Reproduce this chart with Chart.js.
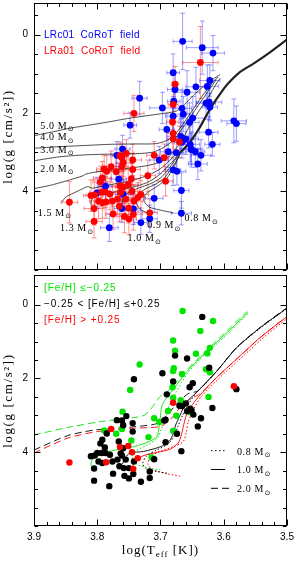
<!DOCTYPE html>
<html><head><meta charset="utf-8">
<script src="https://cdn.jsdelivr.net/npm/chart.js@4/dist/chart.umd.min.js"></script>
<style>
html,body{margin:0;padding:0;background:#fff;width:295px;height:562px;overflow:hidden}
canvas{position:absolute;left:0}
#c1{top:0}#c2{top:272px}
</style></head><body>
<canvas id="c1" width="295" height="273"></canvas>
<canvas id="c2" width="295" height="290"></canvas>
<script>
// ---------------- axis labels ----------------
const xTickLabels = [3.9, 3.8, 3.7, 3.6, 3.5];
const yTickLabels = [0, 2, 4];

// ---------------- top panel: stars with error bars ----------------
const lrc01Teff = [3.665,3.634,3.617,3.680,3.622,3.677,3.658,3.644,3.626,3.623,
                   3.628,3.622,3.733,3.679,3.697,3.666,3.748,3.680,3.649,3.654,
                   3.690,3.584,3.580,3.624,3.668,3.660,3.653,3.651,3.645,3.618,
                   3.636,3.641,3.688,3.674,3.680,3.702,3.667,3.710,3.717,3.760,
                   3.766,3.759,3.800,3.761,3.743,3.731,3.781,3.787,3.769,3.667,
                   3.675,3.652,3.666,3.664];
const lrc01Logg = [0.17,0.33,0.47,0.97,1.17,1.40,1.47,1.33,1.32,1.72,
                   1.75,1.85,1.62,1.70,1.87,1.88,2.31,2.08,2.13,2.24,
                   2.42,2.20,2.27,2.49,2.60,2.66,2.80,2.93,2.99,2.80,
                   3.08,3.30,2.99,3.49,3.45,3.20,3.98,4.18,4.70,2.92,
                   3.69,4.08,4.04,4.44,4.45,4.80,4.93,3.87,3.08,4.56,
                   3.01,2.92,2.75,2.03];
const lrc01TeffErr = [0.015,0.025,0.018,0.010,0.016,0.012,0.020,0.016,0.018,0.020,
                      0.015,0.012,0.012,0.010,0.020,0.015,0.010,0.012,0.020,0.015,
                      0.012,0.020,0.015,0.015,0.012,0.020,0.015,0.018,0.015,0.012,
                      0.016,0.015,0.012,0.014,0.012,0.015,0.012,0.014,0.012,0.012,
                      0.012,0.012,0.012,0.012,0.012,0.010,0.014,0.010,0.010,0.016,
                      0.012,0.015,0.012,0.015];
const lrc01LoggErr = [0.72,0.68,0.45,0.48,0.40,0.45,0.55,0.50,0.55,0.45,
                      0.40,0.35,0.43,0.40,0.40,0.45,0.33,0.50,0.55,0.50,
                      0.40,0.56,0.45,0.40,0.45,0.40,0.45,0.45,0.40,0.30,
                      0.40,0.40,0.40,0.35,0.40,0.35,0.45,0.35,0.35,0.35,
                      0.40,0.35,0.40,0.35,0.40,0.30,0.35,0.35,0.35,0.30,
                      0.40,0.40,0.40,0.45];

const lra01Teff = [3.637,3.677,3.680,3.742,3.681,3.680,3.670,3.680,3.754,3.744,
                   3.759,3.761,3.710,3.778,3.789,3.770,3.761,3.785,3.744,3.746,
                   3.720,3.692,3.792,3.795,3.764,3.751,3.759,3.745,3.804,3.793,
                   3.780,3.763,3.810,3.798,3.792,3.786,3.776,3.768,3.755,3.742,
                   3.736,3.765,3.805,3.775,3.750,3.743,3.757,3.750,3.805,3.844,
                   3.717,3.694,3.731,3.787,3.764];
const lra01Logg = [0.71,1.26,1.78,2.01,2.23,2.52,2.74,2.66,3.03,3.20,
                   3.27,3.14,3.08,3.37,3.43,3.50,3.37,3.49,3.44,3.68,
                   3.60,3.74,3.66,3.76,3.86,3.83,3.89,4.00,4.09,4.02,
                   4.07,4.03,4.11,4.25,4.29,4.27,4.25,4.20,4.20,4.25,
                   4.16,4.38,4.44,4.58,4.43,4.59,4.64,4.71,4.77,4.28,
                   4.55,3.14,4.08,4.02,3.09];
const lra01TeffErr = [0.028,0.005,0.008,0.016,0.010,0.010,0.012,0.010,0.012,0.014,
                      0.012,0.010,0.012,0.014,0.012,0.012,0.010,0.016,0.012,0.014,
                      0.012,0.012,0.014,0.012,0.012,0.016,0.012,0.012,0.014,0.012,
                      0.012,0.016,0.012,0.014,0.012,0.012,0.016,0.012,0.012,0.014,
                      0.012,0.012,0.016,0.012,0.012,0.014,0.012,0.012,0.013,0.013,
                      0.012,0.012,0.012,0.014,0.012];
const lra01LoggErr = [0.92,0.45,0.40,0.46,0.40,0.40,0.40,0.35,0.35,0.40,
                      0.35,0.35,0.35,0.40,0.35,0.40,0.35,0.40,0.40,0.40,
                      0.40,0.38,0.42,0.40,0.38,0.40,0.42,0.40,0.40,0.38,
                      0.40,0.42,0.40,0.45,0.40,0.42,0.38,0.40,0.42,0.40,
                      0.38,0.40,0.42,0.40,0.38,0.40,0.42,0.40,0.42,0.53,
                      0.35,0.35,0.35,0.40,0.35];

// ---------------- top panel: evolutionary tracks ----------------
const track50Teff = [3.900,3.870,3.840,3.790,3.748,3.700,3.675,3.662,3.648,3.632,3.618,3.606];
const track50Logg = [2.58,2.48,2.38,2.25,2.13,2.02,1.95,1.78,1.55,1.32,1.15,1.02];
const track40Teff = [3.900,3.860,3.820,3.780,3.740,3.706,3.685,3.672,3.660,3.646,3.632,3.619,3.609];
const track40Logg = [2.90,2.86,2.83,2.80,2.79,2.78,2.66,2.45,2.18,1.85,1.52,1.25,1.08];
const track30Teff = [3.900,3.860,3.820,3.780,3.740,3.712,3.695,3.680,3.668,3.655,3.640,3.625,3.612];
const track30Logg = [3.22,3.12,3.07,3.05,3.04,3.00,2.88,2.70,2.45,2.15,1.80,1.45,1.15];
const track20Teff = [3.900,3.875,3.850,3.822,3.818,3.800,3.760,3.720,3.700,3.686,3.674,3.663,3.652,3.638,3.624,3.612,3.606];
const track20Logg = [3.93,3.85,3.74,3.60,3.56,3.50,3.43,3.34,3.25,3.10,2.88,2.60,2.28,1.92,1.58,1.26,1.12];
const track15Teff = [3.856,3.850,3.838,3.825,3.815,3.808,3.790,3.765,3.740,3.718,3.700,3.688,3.678,3.668];
const track15Logg = [4.28,4.15,4.05,3.95,3.88,3.92,3.86,3.79,3.70,3.58,3.42,3.25,3.10,3.00];
const track13Teff = [3.805,3.810,3.806,3.795,3.785,3.770,3.745,3.722,3.705,3.692,3.680,3.668];
const track13Logg = [4.45,4.30,4.15,4.05,4.08,4.00,3.90,3.78,3.62,3.42,3.22,3.00];
const track10Teff = [3.752,3.760,3.760,3.752,3.735,3.715,3.700,3.688,3.678,3.668];
const track10Logg = [4.50,4.38,4.22,4.05,3.92,3.80,3.66,3.45,3.22,3.00];
const track09Teff = [3.716,3.730,3.738,3.736,3.725,3.708,3.694,3.683,3.674,3.668];
const track09Logg = [4.58,4.48,4.32,4.12,3.95,3.82,3.66,3.42,3.20,3.00];
const track08Teff = [3.680,3.700,3.718,3.726,3.725,3.716,3.704,3.692,3.682,3.674,3.668];
const track08Logg = [4.55,4.48,4.40,4.25,4.10,3.98,3.86,3.70,3.48,3.22,3.00];
const giantBranchTeff = [3.668,3.655,3.645,3.638,3.627,3.617,3.606,3.595,3.574,3.553,3.527,3.500];
const giantBranchLogg = [3.00,2.78,2.55,2.37,2.05,1.78,1.52,1.28,0.95,0.74,0.45,0.12];

const trackLabels = ['5.0','4.0','3.0','2.0','1.5','1.3','1.0','0.9','0.8'];
const trackLabelTeff = [3.890,3.890,3.890,3.890,3.894,3.859,3.752,3.721,3.662];
const trackLabelLogg = [2.40,2.70,3.02,3.50,4.62,5.02,5.27,4.95,4.77];

// ---------------- bottom panel: stars by metallicity ----------------
const metalPoorTeff = [3.665,3.617,3.637,3.680,3.622,3.677,3.644,3.626,3.628,3.622,
                       3.679,3.680,3.666,3.681,3.733,3.748,3.680,3.668,3.624,3.760,
                       3.710,3.702,3.688,3.675,3.652,3.789,3.770,3.761,3.680,3.746,
                       3.719,3.714];
const metalPoorLogg = [0.17,0.44,0.71,0.97,1.17,1.25,1.33,1.32,1.75,1.83,
                       1.72,1.80,1.88,2.24,1.62,2.31,2.52,2.59,2.50,2.90,
                       3.08,3.18,2.88,3.01,2.92,3.41,3.50,3.37,3.42,3.68,
                       3.59,4.14];
const solarTeff = [3.634,3.677,3.658,3.623,3.697,3.742,3.680,3.649,3.654,3.690,
                   3.580,3.670,3.666,3.660,3.618,3.653,3.651,3.658,3.648,3.636,
                   3.692,3.694,3.641,3.674,3.692,3.667,3.710,3.717,3.717,3.754,
                   3.769,3.761,3.744,3.759,3.785,3.744,3.792,3.795,3.766,3.759,
                   3.788,3.800,3.804,3.793,3.787,3.780,3.763,3.810,3.798,3.792,
                   3.776,3.768,3.761,3.755,3.742,3.765,3.758,3.805,3.775,3.750,
                   3.743,3.757,3.750,3.805,3.731,3.781];
const solarLogg = [0.33,1.38,1.46,1.71,1.86,2.02,2.08,2.13,2.24,2.43,
                   2.29,2.74,2.75,2.68,2.80,2.82,2.86,2.89,2.98,3.08,
                   3.12,3.14,3.30,3.50,3.73,3.97,4.19,4.52,4.70,3.02,
                   3.13,3.14,3.21,3.27,3.49,3.44,3.66,3.76,3.71,3.89,
                   3.87,4.02,4.09,4.02,4.02,4.07,4.03,4.11,4.25,4.29,
                   4.25,4.20,4.09,4.20,4.25,4.38,4.43,4.44,4.58,4.43,
                   4.59,4.64,4.71,4.77,4.80,4.92];
const metalRichTeff = [3.584,3.680,3.778,3.764,3.751,3.745,3.786,3.736,3.743,3.844];
const metalRichLogg = [2.21,2.66,3.37,3.86,3.83,4.00,4.27,4.16,4.45,4.28];

// ---------------- bottom panel: tracks ----------------
const poor08Teff = [3.700,3.722,3.740,3.745,3.738,3.720,3.705,3.698,3.692,3.686,3.675,3.657,3.636,3.615,3.588,3.561];
const poor08Logg = [4.48,4.42,4.30,4.12,3.95,3.80,3.62,3.35,3.05,2.72,2.36,1.85,1.45,1.12,0.70,0.22];
const poor10Teff = [3.808,3.810,3.805,3.782,3.740,3.718,3.706,3.702,3.700,3.697,3.680,3.659,3.638,3.617,3.590,3.561];
const poor10Logg = [4.47,4.30,4.16,3.98,3.84,3.71,3.58,3.30,3.00,2.70,2.30,1.83,1.45,1.11,0.68,0.20];
const poor20Teff = [3.900,3.847,3.795,3.742,3.726,3.716,3.708,3.700,3.684,3.661,3.640,3.619,3.592,3.563];
const poor20Logg = [3.53,3.33,3.17,3.06,3.00,2.85,2.65,2.48,2.28,1.82,1.44,1.10,0.66,0.18];
const solar08Teff = [3.690,3.705,3.722,3.728,3.722,3.705,3.688,3.678,3.672,3.665,3.655,3.645,3.613,3.582,3.545,3.502];
const solar08Logg = [4.57,4.52,4.46,4.30,4.10,3.93,3.78,3.55,3.28,3.00,2.68,2.42,1.84,1.21,0.67,0.13];
const solar10Teff = [3.760,3.756,3.748,3.727,3.700,3.686,3.680,3.676,3.669,3.659,3.643,3.611,3.580,3.543,3.500];
const solar10Logg = [4.32,4.15,4.02,3.98,3.85,3.70,3.50,3.26,2.99,2.64,2.38,1.80,1.17,0.63,0.09];
const solar20Teff = [3.900,3.847,3.805,3.742,3.705,3.690,3.680,3.668,3.655,3.641,3.610,3.579,3.542,3.500];
const solar20Logg = [3.94,3.55,3.40,3.31,3.22,3.00,2.80,2.58,2.40,2.34,1.78,1.15,0.61,0.08];
const rich08Teff = [3.669,3.690,3.712,3.720,3.716,3.700,3.680,3.664,3.659,3.656,3.648,3.636,3.609,3.578,3.541,3.500];
const rich08Logg = [4.65,4.58,4.48,4.32,4.12,3.97,3.85,3.71,3.44,3.17,2.85,2.50,2.02,1.53,0.95,0.37];
const rich10Teff = [3.745,3.740,3.728,3.705,3.685,3.672,3.667,3.664,3.660,3.652,3.640,3.611,3.580,3.543,3.500];
const rich10Logg = [4.40,4.25,4.10,4.00,3.92,3.75,3.53,3.31,3.04,2.77,2.50,1.97,1.48,0.90,0.32];
const rich20Teff = [3.900,3.847,3.800,3.742,3.700,3.685,3.674,3.665,3.652,3.638,3.611,3.580,3.543,3.500];
const rich20Logg = [4.02,3.62,3.44,3.35,3.30,3.12,2.90,2.70,2.55,2.42,1.97,1.48,0.90,0.32];

const legendMasses = ['0.8','1.0','2.0'];

// ---------------- helpers ----------------
const pts = (xs, ys) => xs.map((v, i) => ({x: v, y: ys[i]}));
function lineDs(xs, ys, color, width, dash) {
  return {data: pts(xs, ys), showLine: true, borderColor: color, borderWidth: width,
          borderDash: dash || [], pointRadius: 0, pointHoverRadius: 0, tension: 0.25,
          fill: false, order: 10};
}
function dotDs(xs, ys, color, r, order, extra) {
  return Object.assign({data: pts(xs, ys), showLine: false, pointRadius: r, pointHoverRadius: r,
          backgroundColor: color, borderColor: color, pointBorderWidth: 0, order}, extra || {});
}
const GREEN = '#00e400';
const BLUE = '#0000ff';
const RED = '#ff0000';

function drawMass(ctx, text, x, y, size) {
  ctx.font = size + 'px "Liberation Serif"';
  ctx.textAlign = 'left'; ctx.textBaseline = 'alphabetic';
  ctx.letterSpacing = '0.6px';
  ctx.fillText(text + ' M', x, y);
  const w = ctx.measureText(text + ' M').width;
  ctx.font = (size * 0.7) + 'px "DejaVu Sans"';
  ctx.letterSpacing = '0px';
  ctx.fillText('\u2299', x + w + 0.5, y + 2.5);
}

const errorBars = {
  id: 'errorBars',
  beforeDatasetsDraw(chart) {
    const {ctx, chartArea: a, scales: {x, y}} = chart;
    ctx.save();
    ctx.beginPath(); ctx.rect(a.left, a.top, a.right - a.left, a.bottom - a.top); ctx.clip();
    chart.data.datasets.forEach(ds => {
      if (!ds.errX) return;
      ctx.strokeStyle = ds.errColor; ctx.lineWidth = 1;
      ds.data.forEach((p, i) => {
        const px = x.getPixelForValue(p.x), py = y.getPixelForValue(p.y);
        const x1 = x.getPixelForValue(p.x - ds.errX[i]), x2 = x.getPixelForValue(p.x + ds.errX[i]);
        const y1 = y.getPixelForValue(p.y - ds.errY[i]), y2 = y.getPixelForValue(p.y + ds.errY[i]);
        ctx.beginPath();
        ctx.moveTo(x1, py); ctx.lineTo(x2, py);
        ctx.moveTo(px, y1); ctx.lineTo(px, y2);
        ctx.moveTo(x1, py - 2); ctx.lineTo(x1, py + 2);
        ctx.moveTo(x2, py - 2); ctx.lineTo(x2, py + 2);
        ctx.moveTo(px - 2.5, y1); ctx.lineTo(px + 2.5, y1);
        ctx.moveTo(px - 2.5, y2); ctx.lineTo(px + 2.5, y2);
        ctx.stroke();
      });
    });
    ctx.restore();
  }
};

const frameTicks = {
  id: 'frameTicks',
  afterDraw(chart, args, opts) {
    const {ctx, chartArea: a, scales: {x, y}} = chart;
    ctx.save();
    ctx.strokeStyle = '#000'; ctx.lineWidth = 1;
    const L = Math.round(a.left) + 0.5, R = Math.round(a.right) - 0.5;
    const T = Math.round(a.top) + 0.5, B = Math.round(a.bottom) - 0.5;
    ctx.strokeRect(L, T, R - L, B - T);
    ctx.beginPath();
    for (let i = 0; i <= 20; i++) {
      const v = 3.5 + i * 0.02;
      const len = (i % 5 === 0) ? 6 : 3.5;
      const px = Math.round(x.getPixelForValue(v)) + 0.5;
      ctx.moveTo(px, B); ctx.lineTo(px, B - len);
      if (opts.topTicks) { ctx.moveTo(px, T); ctx.lineTo(px, T + len); }
    }
    for (let i = -1; i <= 12; i++) {
      const v = i * 0.5;
      const len = yTickLabels.includes(v) ? 6 : 3.5;
      const py = Math.round(y.getPixelForValue(v)) + 0.5;
      ctx.moveTo(L, py); ctx.lineTo(L + len, py);
      ctx.moveTo(R, py); ctx.lineTo(R - len, py);
    }
    ctx.stroke();
    ctx.restore();
  }
};

const texts = {
  id: 'texts',
  afterDraw(chart, args, o) {
    const {ctx, chartArea: a, scales: {x, y}} = chart;
    ctx.save();
    ctx.fillStyle = '#000';
    ctx.save();
    ctx.translate(9, (a.top + a.bottom) / 2);
    ctx.rotate(-Math.PI / 2);
    ctx.font = '13px "Liberation Serif"';
    ctx.letterSpacing = '1.6px';
    ctx.textAlign = 'center'; ctx.textBaseline = 'middle';
    ctx.fillText('log(g [cm/s\u00B2])', 0, 0);
    ctx.restore();
    if (o.panel === 'top') {
      ctx.font = '10px "Liberation Sans"';
      ctx.letterSpacing = '0.3px';
      ctx.textAlign = 'left'; ctx.textBaseline = 'alphabetic';
      ctx.fillStyle = BLUE; ctx.fillText('LRc01  CoRoT  field', a.left + 10, a.top + 34.5);
      ctx.fillStyle = RED;  ctx.fillText('LRa01  CoRoT  field', a.left + 10, a.top + 51);
      ctx.fillStyle = '#000';
      trackLabels.forEach((m, i) => {
        drawMass(ctx, m, x.getPixelForValue(trackLabelTeff[i]), y.getPixelForValue(trackLabelLogg[i]), 10);
      });
    } else {
      ctx.font = '10px "Liberation Sans"';
      ctx.letterSpacing = '0.9px';
      ctx.textAlign = 'left'; ctx.textBaseline = 'alphabetic';
      ctx.fillStyle = GREEN; ctx.fillText('[Fe/H] \u2264\u22120.25', a.left + 10, a.top + 16);
      ctx.fillStyle = '#000'; ctx.fillText('\u22120.25 < [Fe/H] \u2264+0.25', a.left + 10, a.top + 32);
      ctx.fillStyle = RED; ctx.fillText('[Fe/H] > +0.25', a.left + 10, a.top + 48);
      ctx.fillStyle = '#000'; ctx.strokeStyle = '#000'; ctx.lineWidth = 1;
      const dashes = [[1.5, 2.5], [], [7, 4]];
      legendMasses.forEach((m, i) => {
        const ly = a.top + 175.5 + i * 18.8;
        ctx.setLineDash(dashes[i]);
        ctx.beginPath(); ctx.moveTo(a.left + 177, ly); ctx.lineTo(a.left + (i === 2 ? 196 : 191), ly); ctx.stroke();
        ctx.setLineDash([]);
        drawMass(ctx, m, a.left + 203, ly + 3.8, 10);
      });
      ctx.fillStyle = '#000';
      ctx.letterSpacing = '1px';
      ctx.textAlign = 'left';
      const f1 = '13px "Liberation Serif"', f2 = '9px "Liberation Serif"';
      ctx.font = f1; const w1 = ctx.measureText('log(T').width, w3 = ctx.measureText(' [K])').width;
      ctx.font = f2; const w2 = ctx.measureText('eff').width;
      const cx = (a.left + a.right) / 2, by = a.bottom + 28;
      let sx = cx - (w1 + w2 + w3) / 2;
      ctx.font = f1; ctx.fillText('log(T', sx, by); sx += w1;
      ctx.font = f2; ctx.fillText('eff', sx, by + 3); sx += w2;
      ctx.font = f1; ctx.fillText(' [K])', sx, by);
    }
    ctx.restore();
  }
};

function makeOptions(showX, panel) {
  return {
    responsive: false, animation: false, devicePixelRatio: 1,
    layout: {padding: {left: 0, right: 8, top: 1, bottom: showX ? 0 : 1}},
    plugins: {legend: {display: false}, tooltip: {enabled: false},
              frameTicks: {topTicks: panel === 'top'}, texts: {panel}},
    events: [],
    scales: {
      x: {type: 'linear', reverse: true, min: 3.5, max: 3.9, display: showX,
          afterBuildTicks: s => { s.ticks = xTickLabels.map(v => ({value: v})); },
          afterFit: s => { s.height = showX ? 36 : 0; s.paddingLeft = 0; s.paddingRight = 0; },
          grid: {display: false, drawTicks: false}, border: {display: false},
          ticks: {font: {family: 'Liberation Sans', size: 10}, color: '#000', padding: 5,
                  maxRotation: 0, autoSkip: false, callback: v => Number(v).toFixed(1)}},
      y: {type: 'linear', reverse: true, min: -0.8, max: 6.0,
          afterBuildTicks: s => { s.ticks = yTickLabels.map(v => ({value: v})); },
          afterFit: s => { s.width = 34; s.paddingTop = 0; s.paddingBottom = 0; },
          grid: {display: false, drawTicks: false}, border: {display: false},
          ticks: {font: {family: 'Liberation Sans', size: 10}, color: '#000', padding: 6,
                  callback: v => String(v)}}
    }
  };
}

new Chart(document.getElementById('c1'), {
  type: 'scatter',
  data: {datasets: [
    dotDs(lra01Teff, lra01Logg, RED, 3.4, 1, {errX: lra01TeffErr, errY: lra01LoggErr, errColor: 'rgba(255,40,40,0.5)'}),
    dotDs(lrc01Teff, lrc01Logg, BLUE, 3.4, 2, {errX: lrc01TeffErr, errY: lrc01LoggErr, errColor: 'rgba(40,40,255,0.45)'}),
    lineDs(track50Teff, track50Logg, '#222', 0.8),
    lineDs(track40Teff, track40Logg, '#222', 0.8),
    lineDs(track30Teff, track30Logg, '#222', 0.8),
    lineDs(track20Teff, track20Logg, '#222', 0.8),
    lineDs(track15Teff, track15Logg, '#222', 0.8),
    lineDs(track13Teff, track13Logg, '#222', 0.8),
    lineDs(track10Teff, track10Logg, '#222', 0.8),
    lineDs(track09Teff, track09Logg, '#222', 0.8),
    lineDs(track08Teff, track08Logg, '#222', 0.8),
    lineDs(giantBranchTeff, giantBranchLogg, '#222', 2.2)
  ]},
  options: makeOptions(false, 'top'),
  plugins: [errorBars, frameTicks, texts]
});

new Chart(document.getElementById('c2'), {
  type: 'scatter',
  data: {datasets: [
    dotDs(metalRichTeff, metalRichLogg, RED, 3.2, 1),
    dotDs(solarTeff, solarLogg, '#000', 3.2, 2),
    dotDs(metalPoorTeff, metalPoorLogg, GREEN, 3.2, 3),
    lineDs(poor08Teff, poor08Logg, GREEN, 1, [1.5, 2]),
    lineDs(poor10Teff, poor10Logg, GREEN, 0.9),
    lineDs(poor20Teff, poor20Logg, GREEN, 0.9, [7, 4]),
    lineDs(solar08Teff, solar08Logg, '#000', 1, [1.5, 2]),
    lineDs(solar10Teff, solar10Logg, '#000', 0.9),
    lineDs(solar20Teff, solar20Logg, '#000', 0.9, [7, 4]),
    lineDs(rich08Teff, rich08Logg, RED, 1, [1.5, 2]),
    lineDs(rich10Teff, rich10Logg, RED, 0.9),
    lineDs(rich20Teff, rich20Logg, RED, 0.9, [7, 4])
  ]},
  options: makeOptions(true, 'bottom'),
  plugins: [frameTicks, texts]
});
</script>
</body></html>
